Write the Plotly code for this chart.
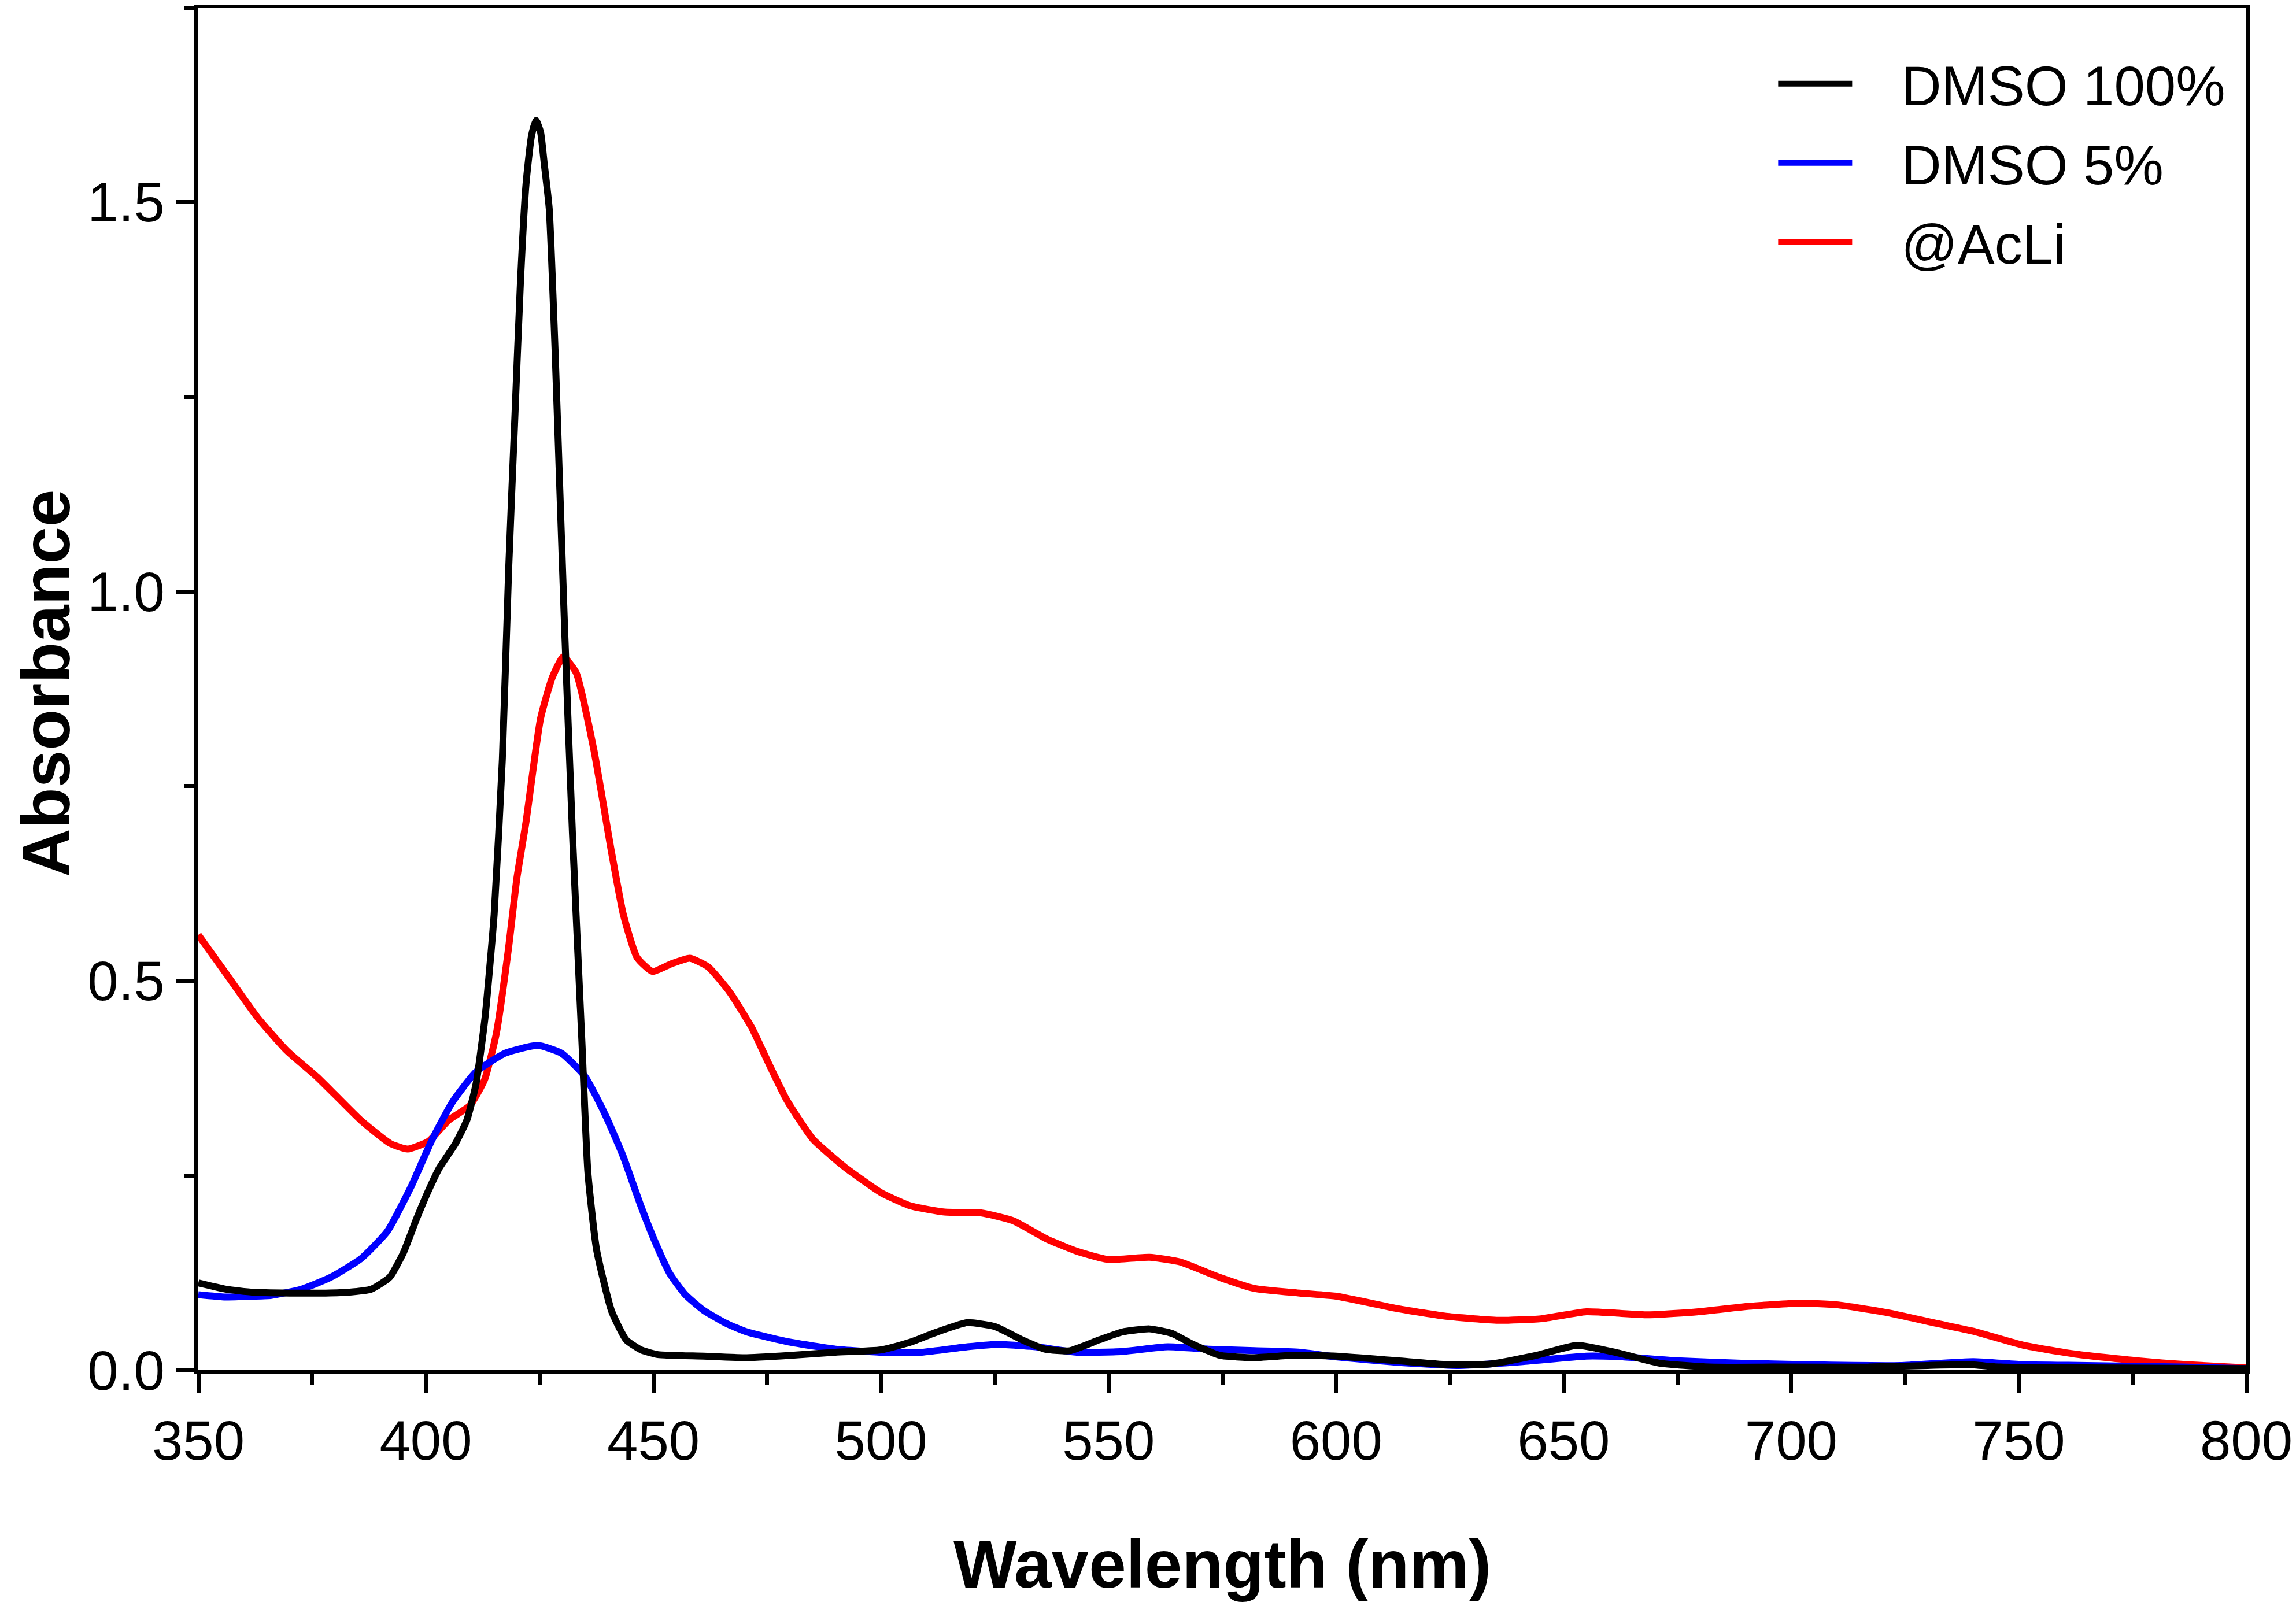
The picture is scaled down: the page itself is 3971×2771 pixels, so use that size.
import plotly.graph_objects as go

# DMSO 100% (black)
wl_dmso100 = [350, 356, 362, 370, 378, 383, 388, 392, 395, 398, 400.6, 403, 406.5, 409, 411,
              413, 415, 416.8, 418.2, 419.5, 420.8, 422, 423.2, 424.2, 425.2, 426, 427.1, 428.4,
              429.3, 430.5, 432.2, 434.3, 435.6, 437.5, 440.8, 444, 447.3, 451, 461, 470, 480,
              490, 500, 506.5, 512.3, 519, 525, 531, 536, 541.5, 548, 553, 559, 564, 568.6,
              574.5, 582, 590, 600, 613.5, 624.5, 634, 644, 653, 662, 671, 682, 696, 717, 730,
              739, 746, 765, 800]
abs_dmso100 = [0.112, 0.104, 0.100, 0.099, 0.099, 0.100, 0.104, 0.119, 0.150, 0.195, 0.231, 0.260,
               0.291, 0.321, 0.367, 0.453, 0.585, 0.784, 1.03, 1.216, 1.40, 1.523, 1.585, 1.605,
               1.59, 1.55, 1.492, 1.308, 1.154, 0.95, 0.69, 0.42, 0.254, 0.155, 0.076, 0.039,
               0.026, 0.020, 0.018, 0.016, 0.019, 0.023, 0.026, 0.036, 0.049, 0.061, 0.056, 0.039,
               0.027, 0.025, 0.039, 0.049, 0.053, 0.047, 0.033, 0.019, 0.016, 0.019, 0.018, 0.012,
               0.007, 0.008, 0.019, 0.032, 0.022, 0.009, 0.004, 0.004, 0.004, 0.006, 0.007, 0.004,
               0.003, 0.002]

# DMSO 5% (blue)
wl_dmso5 = [350, 356, 362, 366, 372.7, 379, 385.7, 391.5, 396.7, 401.2, 405.8, 411, 417.4, 424.6,
            429.8, 435, 439.5, 443.4, 447.3, 450.5, 453.6, 457, 461, 466, 470.6, 480, 490, 500,
            509, 519, 526, 534, 543, 553, 563, 572, 582, 592, 600, 613.5, 627, 641, 655, 663,
            675, 689, 703, 724, 740, 751, 765, 786, 800]
abs_dmso5 = [0.097, 0.094, 0.095, 0.096, 0.104, 0.119, 0.143, 0.178, 0.235, 0.294, 0.344, 0.383,
             0.407, 0.417, 0.407, 0.377, 0.327, 0.274, 0.21, 0.163, 0.124, 0.097, 0.077, 0.060,
             0.049, 0.036, 0.027, 0.023, 0.023, 0.030, 0.033, 0.030, 0.023, 0.024, 0.030, 0.027,
             0.025, 0.023, 0.017, 0.010, 0.006, 0.011, 0.018, 0.017, 0.012, 0.009, 0.007, 0.006,
             0.011, 0.007, 0.006, 0.004, 0.002]

# @AcLi (red)
wl_acli = [350, 356.5, 363, 369.5, 376, 380, 385.7, 392.2, 396, 400.6, 405, 409.7, 412.9, 415.5,
           418.1, 420, 422, 425.2, 427.8, 430.2, 433, 436.9, 440.8, 443.4, 446.4, 449.8, 454, 458,
           462, 466.7, 471.6, 475.4, 479.3, 485, 492, 500, 506.5, 514, 522, 529, 536.6, 543.4,
           550, 559, 565.7, 574.5, 582, 592, 600, 613.5, 624.5, 635.6, 645, 655, 668.6, 679.6,
           690.7, 701.7, 710, 721, 732, 740, 751, 762, 776, 787, 800]
abs_acli = [0.559, 0.506, 0.453, 0.41, 0.377, 0.354, 0.321, 0.291, 0.284, 0.294, 0.321, 0.34,
            0.373, 0.433, 0.539, 0.632, 0.704, 0.837, 0.89, 0.916, 0.896, 0.797, 0.665, 0.585,
            0.53, 0.512, 0.522, 0.529, 0.518, 0.486, 0.44, 0.393, 0.347, 0.297, 0.261, 0.228,
            0.211, 0.203, 0.202, 0.192, 0.168, 0.152, 0.142, 0.145, 0.139, 0.119, 0.105, 0.099,
            0.095, 0.079, 0.069, 0.064, 0.066, 0.075, 0.071, 0.075, 0.082, 0.086, 0.084, 0.074,
            0.06, 0.05, 0.032, 0.021, 0.012, 0.007, 0.003]

x_ticks = [350, 400, 450, 500, 550, 600, 650, 700, 750, 800]
y_ticks = [0.0, 0.5, 1.0, 1.5]
y_labels = ["0.0", "0.5", "1.0", "1.5"]

FONT = "Liberation Sans, Arial"
pad = "\u00a0\u00a0\u00a0"  # gap between legend line and label

# drawn red first so black ends up on top; legendrank puts the legend back in order
series = [
    ("@AcLi", wl_acli, abs_acli, "#FF0000", 3),
    ("DMSO 5%", wl_dmso5, abs_dmso5, "#0000FF", 2),
    ("DMSO 100%", wl_dmso100, abs_dmso100, "#000000", 1),
]

fig = go.Figure()
for name, wl, ab, color, rank in series:
    fig.add_trace(go.Scatter(
        x=wl, y=ab, name=pad + name, mode="lines", legendgroup=name, legendrank=rank,
        line=dict(color=color, width=12, shape="spline", smoothing=0.5),
    ))

axis_common = dict(
    showline=True, linecolor="black", linewidth=7, mirror=True,
    ticks="outside", tickcolor="black", tickwidth=7,
    showgrid=False, zeroline=False, automargin=False,
    tickfont=dict(family=FONT, size=96, color="black"),
)

fig.update_xaxes(
    range=[350, 800], tickmode="array", tickvals=x_ticks, ticklen=33,
    minor=dict(ticks="outside", dtick=25, tick0=350, ticklen=18, tickwidth=7, tickcolor="black"),
    title=dict(text="Wavelength (nm)", standoff=123,
               font=dict(family=FONT, size=116, color="black", weight="bold")),
    **axis_common
)
fig.update_yaxes(
    range=[0, 1.75], tickmode="array", tickvals=y_ticks, ticktext=y_labels, ticklen=32,
    minor=dict(ticks="outside", dtick=0.25, tick0=0, ticklen=18, tickwidth=7, tickcolor="black"),
    **axis_common
)

# y title as an annotation so it can sit close to the page edge
fig.add_annotation(
    text="Absorbance", textangle=-90, showarrow=False,
    xref="paper", yref="paper", x=-0.0743, y=0.504, xanchor="center", yanchor="middle",
    font=dict(family=FONT, size=116, color="black", weight="bold"),
)

# page body keeps its default 8px margin, so the figure is 8px smaller here
fig.update_layout(
    width=3963, height=2763,
    margin=dict(l=335, r=86, t=5, b=401),
    plot_bgcolor="white", paper_bgcolor="white",
    showlegend=True,
    legend=dict(x=0.77, y=0.9733, xanchor="left", yanchor="top",
                traceorder="grouped", tracegroupgap=9, bgcolor="rgba(0,0,0,0)",
                font=dict(family=FONT, size=96, color="black"),
                itemwidth=128),
)

fig.write_html("out.html")
